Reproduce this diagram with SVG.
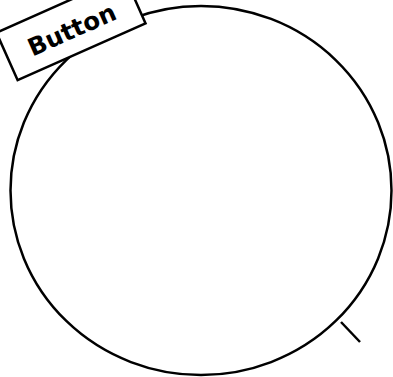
<svg xmlns="http://www.w3.org/2000/svg" width="393" height="377" viewBox="0 0 393 377">
<style>
.edge{fill:none;stroke:#000;stroke-width:2.5}
.box{fill:#fff;stroke:#000;stroke-width:2.5}
.lbl{font-family:"DejaVu Sans",Verdana,sans-serif;font-weight:bold;font-size:24.5px;fill:#000}
</style>
<rect width="393" height="377" fill="#fff"/>
<g id="circle">
<ellipse class="edge" cx="201" cy="190.5" rx="190.5" ry="184.5"/>
</g>
<g id="connectors">
<line class="edge" x1="341" y1="322" x2="360" y2="342"/>
</g>
<g id="button" transform="translate(71,28) rotate(-24)">
<rect class="box" x="-70" y="-26" width="140" height="52"/>
<text class="lbl" x="0" y="10.5" text-anchor="middle">Button</text>
</g>
</svg>
